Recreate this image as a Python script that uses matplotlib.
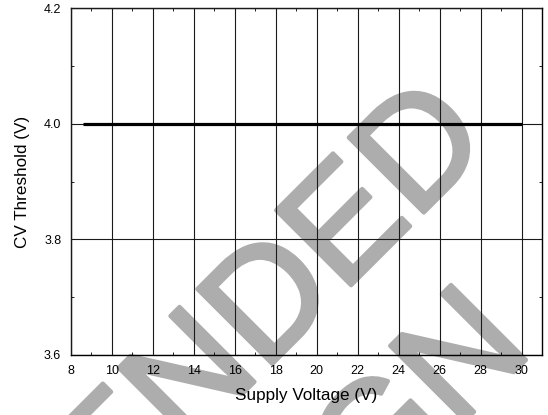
import matplotlib
matplotlib.use("Agg")
import matplotlib.pyplot as plt
from matplotlib.ticker import MultipleLocator
import matplotlib.patheffects as pe

# Data
supply_voltage = [8.6, 30.0]
cv_threshold = [4.0, 4.0]
x_ticks = [8, 10, 12, 14, 16, 18, 20, 22, 24, 26, 28, 30]
y_ticks = [3.6, 3.8, 4.0, 4.2]
x_label = "Supply Voltage (V)"
y_label = "CV Threshold (V)"

plt.rcParams['font.family'] = ['Liberation Sans', 'DejaVu Sans']

fig = plt.figure(figsize=(5.48, 4.15), dpi=100, facecolor='white')

# Watermark (behind everything)
wm_kw = dict(rotation=45, rotation_mode='anchor', va='baseline', ha='right',
             fontsize=111, color='#adadad', zorder=-10,
             path_effects=[pe.withStroke(linewidth=3, foreground='#adadad')])
fig.text(0.900, 0.655, "RECOMMENDED", **wm_kw)
fig.text(0.976, 0.154, "DESIGN", **wm_kw)

ax = fig.add_axes([0.1296, 0.1446, 0.8595, 0.8361])
ax.set_facecolor('none')

ax.plot(supply_voltage, cv_threshold, color='black', linewidth=2.3, zorder=3,
        solid_capstyle='butt')

ax.set_xlim(8, 31)
ax.set_ylim(3.6, 4.2)
ax.set_xticks(x_ticks)
ax.set_xticklabels([str(t) for t in x_ticks])
ax.set_yticks(y_ticks)
ax.set_yticklabels([f"{t:.1f}" for t in y_ticks])
ax.xaxis.set_minor_locator(MultipleLocator(1))
ax.yaxis.set_minor_locator(MultipleLocator(0.1))

ax.tick_params(which='major', length=0, labelsize=9, pad=7, colors='black')
ax.tick_params(axis='x', which='major', pad=7)
ax.tick_params(which='minor', direction='in', length=2.5, width=0.6,
               top=True, right=True, bottom=True, left=True)

ax.grid(True, which='major', color='#1a1a1a', linewidth=0.8)
ax.set_axisbelow(False)

for s in ax.spines.values():
    s.set_linewidth(1.0)
    s.set_color('black')

ax.set_xlabel(x_label, fontsize=12.3, labelpad=8)
ax.set_ylabel(y_label, fontsize=12.3, labelpad=10)

fig.savefig("out.png", dpi=100, facecolor='white')
